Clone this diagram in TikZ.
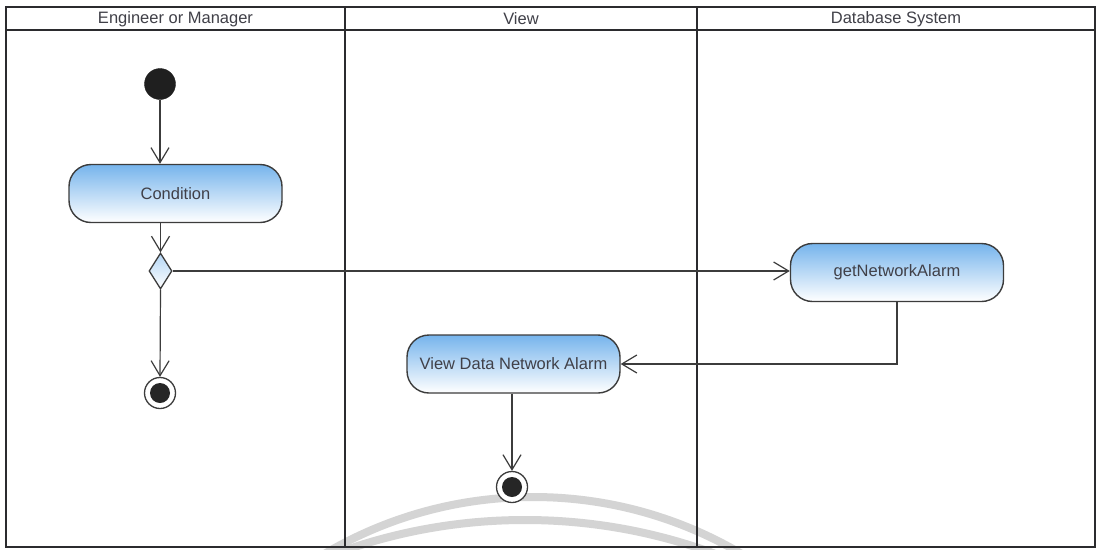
\documentclass[tikz,border=0pt]{standalone}
\usepackage{fontspec}
\setmainfont{Liberation Sans}
\usetikzlibrary{arrows.meta,shapes.geometric}
\definecolor{laneline}{HTML}{2B2B2E}
\definecolor{ink}{HTML}{3C3C3C}
\definecolor{labelink}{HTML}{404048}
\definecolor{acttop}{RGB}{118,180,236}
\definecolor{markgray}{HTML}{D4D4D4}
\tikzset{
  lane/.style={draw=laneline, line width=2.8pt},
  lanetitle/.style={text=labelink, font=\fontsize{16.5}{19}\selectfont, anchor=center},
  activity/.style={draw=ink, line width=1.4pt, rounded corners=22pt,
    minimum width=213pt, minimum height=58pt, top color=acttop, bottom color=white,
    text=labelink, font=\fontsize{16.5}{19}\selectfont, inner sep=0pt},
  startnode/.style={circle, fill=black!88, draw=black!88, minimum size=31pt, inner sep=0pt},
  endnode/.style={circle, draw=ink, line width=1.3pt, fill=white, minimum size=31pt, inner sep=0pt,
    path picture={\fill[black!85] (path picture bounding box.center) circle (10pt);}},
  decision/.style={diamond, draw=ink, line width=1.3pt, minimum width=23pt, minimum height=36pt,
    inner sep=0pt, top color=acttop!55, bottom color=white},
  flow/.style={draw=ink, line width=1.2pt, -{Straight Barb[length=15pt,width=18pt,line width=1.2pt]}},
}
\begin{document}
\begin{tikzpicture}[x=1pt,y=-1pt]
\useasboundingbox (0,0) rectangle (1097,549);
\fill[white] (0,0) rectangle (1097,549);

% faint rings of the seal behind the lanes
\begin{scope}
  \clip (0,0) rectangle (1097,549);
  \draw[markgray, line width=8pt] (533,907) circle (410);
  \draw[markgray, line width=8pt] (525,1068) circle (548);
\end{scope}

% swimlanes
\draw[lane] (6,7) rectangle (1095,547);
\draw[lane] (6,30) -- (1095,30);
\draw[lane] (345,7) -- (345,547);
\draw[lane] (697,7) -- (697,547);
\node[lanetitle] (h1) at (175.5,19) {Engineer or Manager};
\node[lanetitle] (h2) at (521,19) {View};
\node[lanetitle] (h3) at (896,19) {Database System};

% activities and control nodes
\node[startnode] (start) at (160,84) {};
\node[activity] (cond) at (175.5,193.5) {Condition};
\node[decision] (dec) at (160.5,271) {};
\node[endnode] (end1) at (160,393) {};
\node[activity] (getAlarm) at (897,272.5) {getNetworkAlarm};
\node[activity] (viewAlarm) at (513.5,364) {View Data Network Alarm};
\node[endnode] (end2) at (512,487) {};

% control flows
\draw[flow] (start.south) -- (start.south |- cond.north);
\draw[flow] (cond.south -| dec.north) -- (dec.north);
\draw[flow] (dec.east) -- (dec.east -| getAlarm.west);
\draw[flow] (dec.south) -- (end1.north);
\draw[flow] (getAlarm.south) |- (viewAlarm.east);
\draw[flow] (viewAlarm.south -| end2.north) -- (end2.north);
\end{tikzpicture}
\end{document}
